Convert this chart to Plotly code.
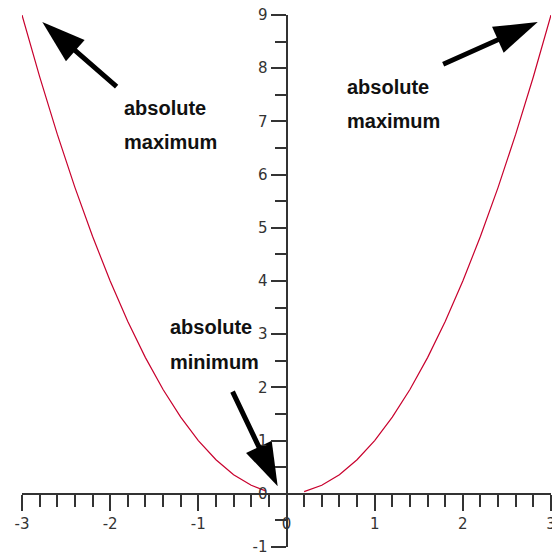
import plotly.graph_objects as go

# ---- data ----
curve_x = [-3.0, -2.8, -2.6, -2.4, -2.2, -2.0, -1.8, -1.6, -1.4, -1.2, -1.0, -0.8, -0.6, -0.4, -0.23,
           None,
           0.2, 0.4, 0.6, 0.8, 1.0, 1.2, 1.4, 1.6, 1.8, 2.0, 2.2, 2.4, 2.6, 2.8, 3.0]
curve_y = [9.0, 7.84, 6.76, 5.76, 4.84, 4.0, 3.24, 2.56, 1.96, 1.44, 1.0, 0.64, 0.36, 0.16, 0.05,
           None,
           0.04, 0.16, 0.36, 0.64, 1.0, 1.44, 1.96, 2.56, 3.24, 4.0, 4.84, 5.76, 6.76, 7.84, 9.0]

x_tick_vals = [-3, -2, -1, 0, 1, 2, 3]
x_tick_text = ["-3", "-2", "-1", "0", "1", "2", "3"]
y_tick_vals = [-1, 0, 1, 2, 3, 4, 5, 6, 7, 8, 9]
y_tick_text = ["-1", "0", "1", "2", "3", "4", "5", "6", "7", "8", "9"]

label_lines = [["absolute", "maximum"], ["absolute", "maximum"], ["absolute", "minimum"]]
label_x = [-1.87, 0.66, -1.34]
label_y = [[7.25, 6.62], [7.64, 7.0], [3.13, 2.48]]

arrow_tip_x = [-2.77, 2.85, -0.10]
arrow_tip_y = [8.87, 8.87, 0.14]
arrow_tail_x = [-1.91, 1.76, -0.62]
arrow_tail_y = [7.63, 8.06, 1.95]

# ---- layout geometry ----
W, H = 552, 555
x_range = [-3, 3]
y_range = [-1, 9]
x_dom = [22 / W, 551 / W]
y_dom = [(H - 547) / H, (H - 15) / H]
x_axis_pos = y_dom[0] + (0 - y_range[0]) / (y_range[1] - y_range[0]) * (y_dom[1] - y_dom[0])
y_axis_pos = x_dom[0] + (0 - x_range[0]) / (x_range[1] - x_range[0]) * (x_dom[1] - x_dom[0])

axis_color = "#333333"
tick_font = dict(family="DejaVu Sans", size=15, color="#333333")
label_font = dict(family="Liberation Sans Narrow, Liberation Sans", size=20, color="#111111",
                  weight="bold")

fig = go.Figure()
fig.add_trace(go.Scatter(x=curve_x, y=curve_y, mode="lines",
                         line=dict(color="rgb(200,0,45)", width=1.2),
                         connectgaps=False, hoverinfo="skip", showlegend=False,
                         cliponaxis=False))

# arrow heads: elongated triangle markers oriented along tail -> tip
for tx, ty, ax, ay in zip(arrow_tip_x, arrow_tip_y, arrow_tail_x, arrow_tail_y):
    fig.add_trace(go.Scatter(x=[ax, tx], y=[ay, ty], mode="markers",
                             marker=dict(symbol=["circle", "arrow"], size=[0, 46],
                                         angleref="previous", color="#000000", opacity=1,
                                         line=dict(width=0)),
                             hoverinfo="skip", showlegend=False, cliponaxis=False))

annotations = []
for lines, lx, lys in zip(label_lines, label_x, label_y):
    for txt, ly in zip(lines, lys):
        annotations.append(dict(x=lx, y=ly, xref="x", yref="y", text=txt, showarrow=False,
                                xanchor="left", yanchor="middle", font=label_font))
# arrow shafts
for tx, ty, ax, ay in zip(arrow_tip_x, arrow_tip_y, arrow_tail_x, arrow_tail_y):
    annotations.append(dict(x=tx, y=ty, xref="x", yref="y", ax=ax, ay=ay, axref="x", ayref="y",
                            text="", showarrow=True, arrowhead=0, standoff=14,
                            arrowwidth=5, arrowcolor="#000000"))

fig.update_layout(
    width=W, height=H,
    margin=dict(l=0, r=0, t=0, b=0),
    paper_bgcolor="white", plot_bgcolor="white",
    showlegend=False,
    annotations=annotations,
    xaxis=dict(range=x_range, domain=x_dom, anchor="free", position=x_axis_pos,
               showgrid=False, zeroline=False, showline=True, linecolor=axis_color, linewidth=2,
               ticks="outside", ticklen=16, tickwidth=2, tickcolor=axis_color,
               tickvals=x_tick_vals, ticktext=x_tick_text, tickfont=tick_font,
               ticklabeloverflow="allow", automargin=False,
               minor=dict(dtick=0.2, tick0=0, ticks="outside", ticklen=12, tickwidth=2,
                          tickcolor=axis_color, showgrid=False)),
    yaxis=dict(range=y_range, domain=y_dom, anchor="free", position=y_axis_pos,
               showgrid=False, zeroline=False, showline=True, linecolor=axis_color, linewidth=2,
               ticks="outside", ticklen=15, tickwidth=2, tickcolor=axis_color,
               tickvals=y_tick_vals, ticktext=y_tick_text, tickfont=tick_font,
               ticklabeloverflow="allow", automargin=False,
               minor=dict(dtick=0.5, tick0=0, ticks="outside", ticklen=11, tickwidth=2,
                          tickcolor=axis_color, showgrid=False)),
)

fig.write_html("out.html", config={"displayModeBar": False},
               post_script="document.body.style.margin='0';document.body.style.overflow='hidden';")
